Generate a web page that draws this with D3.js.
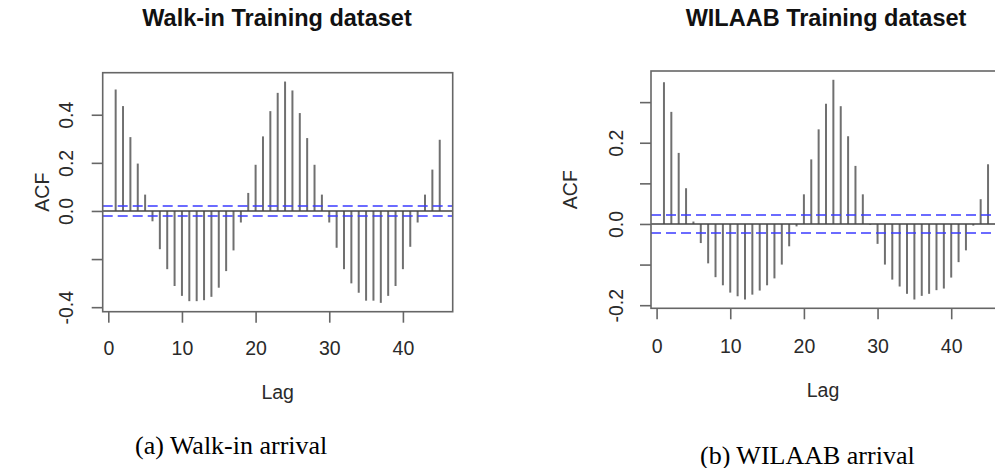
<!DOCTYPE html>
<html>
<head>
<meta charset="utf-8">
<script src="https://cdn.jsdelivr.net/npm/d3@7"></script>
<style>
  html, body { margin: 0; padding: 0; background: #fff; }
  svg { display: block; }
</style>
</head>
<body>
<svg id="chart" width="995" height="468"></svg>
<script>
// ---------------- data ----------------
const lags = [1,2,3,4,5,6,7,8,9,10,11,12,13,14,15,16,17,18,19,20,21,22,23,24,25,26,27,28,29,30,31,32,33,34,35,36,37,38,39,40,41,42,43,44,45];

const acfWalkin = [0.505,0.436,0.307,0.197,0.068,-0.043,-0.159,-0.242,-0.312,-0.353,
  -0.375,-0.375,-0.371,-0.357,-0.319,-0.250,-0.164,-0.048,0.075,0.192,
  0.310,0.415,0.491,0.538,0.501,0.407,0.303,0.192,0.068,-0.048,
  -0.153,-0.242,-0.301,-0.340,-0.373,-0.373,-0.382,-0.353,-0.312,-0.242,
  -0.149,-0.048,0.068,0.172,0.296];

const acfWilaab = [0.349,0.276,0.175,0.088,0.006,-0.047,-0.097,-0.131,-0.151,-0.169,
  -0.178,-0.186,-0.174,-0.164,-0.151,-0.134,-0.100,-0.055,-0.006,0.073,
  0.159,0.233,0.296,0.355,0.290,0.216,0.143,0.073,-0.002,-0.049,
  -0.100,-0.137,-0.154,-0.172,-0.186,-0.177,-0.172,-0.163,-0.159,-0.132,
  -0.094,-0.065,-0.004,0.061,0.147];

const ciWalkin = 0.021;
const ciWilaab = 0.022;

const xTicks = [0,10,20,30,40];
const xTickLabels = ["0","10","20","30","40"];
const yTicksWalkin = [-0.4,-0.2,0.0,0.2,0.4];
const yTickLabelsWalkin = ["-0.4","","0.0","0.2","0.4"];
const yTicksWilaab = [-0.2,-0.1,0.0,0.1,0.2,0.3];
const yTickLabelsWilaab = ["-0.2","","0.0","","0.2",""];

const titles = ["Walk-in Training dataset", "WILAAB Training dataset"];
const captions = ["(a) Walk-in arrival", "(b) WILAAB arrival"];

// ---------------- layout ----------------
const svg = d3.select("#chart");
const sans = "'Liberation Sans', Arial, Helvetica, sans-serif";
const serif = "'Liberation Serif', 'Times New Roman', serif";

const panels = [
  { values: acfWalkin, ci: ciWalkin, yTicks: yTicksWalkin, yLabels: yTickLabelsWalkin,
    title: titles[0], caption: captions[0],
    box: { x0: 102.7, x1: 452.7, y0: 72.7, y1: 311.7 },
    titleX: 277, titleY: 26, ytlX: 73.3, acfX: 49, xtlY: 355, lagY: 399,
    capX: 135, capY: 453.5 },
  { values: acfWilaab, ci: ciWilaab, yTicks: yTicksWilaab, yLabels: yTickLabelsWilaab,
    title: titles[1], caption: captions[1],
    box: { x0: 651, x1: 1001, y0: 71, y1: 308.3 },
    titleX: 826, titleY: 26, ytlX: 623.3, acfX: 576.7, xtlY: 353, lagY: 397,
    capX: 700, capY: 463.5 }
];

const tickLen = 11;

panels.forEach(p => {
  const g = svg.append("g");
  const b = p.box;

  // R-style 4% extended limits
  const xlo = d3.min(lags), xhi = d3.max(lags);
  const xpad = (xhi - xlo) * 0.04;
  const x = d3.scaleLinear().domain([xlo - xpad, xhi + xpad]).range([b.x0, b.x1]);

  const ylo = Math.min(d3.min(p.values), -p.ci), yhi = Math.max(d3.max(p.values), p.ci);
  const ypad = (yhi - ylo) * 0.04;
  const y = d3.scaleLinear().domain([ylo - ypad, yhi + ypad]).range([b.y1, b.y0]);

  // bars
  g.append("g").selectAll("line").data(lags).join("line")
    .attr("x1", (d) => x(d)).attr("x2", (d) => x(d))
    .attr("y1", y(0)).attr("y2", (d, i) => y(p.values[i]))
    .attr("stroke", "#707070").attr("stroke-width", 2);

  // zero line
  g.append("line")
    .attr("x1", b.x0).attr("x2", b.x1).attr("y1", y(0)).attr("y2", y(0))
    .attr("stroke", "#444").attr("stroke-width", 1.4);

  // CI dashed lines
  [p.ci, -p.ci].forEach(c => {
    g.append("line")
      .attr("x1", b.x0).attr("x2", b.x1).attr("y1", y(c)).attr("y2", y(c))
      .attr("stroke", "#3b3bff").attr("stroke-width", 1.5)
      .attr("stroke-dasharray", "10,5");
  });

  // box
  g.append("rect")
    .attr("x", b.x0).attr("y", b.y0).attr("width", b.x1 - b.x0).attr("height", b.y1 - b.y0)
    .attr("fill", "none").attr("stroke", "#666").attr("stroke-width", 1.6);

  // x axis
  const xAxis = d3.axisBottom(x).tickValues(xTicks)
    .tickFormat((d, i) => xTickLabels[i]).tickSize(tickLen).tickSizeOuter(0);
  const gx = g.append("g").attr("transform", `translate(0,${b.y1})`).call(xAxis);
  gx.select(".domain").remove();
  gx.selectAll(".tick line").attr("stroke", "#666").attr("stroke-width", 1.6);
  gx.selectAll(".tick text")
    .attr("y", null).attr("dy", null)
    .attr("transform", null)
    .attr("y", p.xtlY - b.y1)
    .attr("font-family", sans).attr("font-size", 19.5).attr("fill", "#2a2a2a");

  // y axis
  const yAxis = d3.axisLeft(y).tickValues(p.yTicks)
    .tickFormat((d, i) => p.yLabels[i]).tickSize(tickLen).tickSizeOuter(0);
  const gy = g.append("g").attr("transform", `translate(${b.x0},0)`).call(yAxis);
  gy.select(".domain").remove();
  gy.selectAll(".tick line").attr("stroke", "#666").attr("stroke-width", 1.6);
  gy.selectAll(".tick text")
    .attr("x", null).attr("dy", null)
    .attr("text-anchor", "middle")
    .attr("transform", `translate(${p.ytlX - b.x0},0) rotate(-90)`)
    .attr("x", 0).attr("y", 0)
    .attr("font-family", sans).attr("font-size", 19.5).attr("fill", "#2a2a2a");

  // title
  svg.append("text")
    .attr("x", p.titleX).attr("y", p.titleY)
    .attr("text-anchor", "middle")
    .attr("font-family", sans).attr("font-weight", "bold").attr("font-size", 23.5)
    .attr("fill", "#111").text(p.title);

  // Lag label
  svg.append("text")
    .attr("x", (b.x0 + b.x1) / 2 - (p === panels[1] ? 3 : 0)).attr("y", p.lagY)
    .attr("text-anchor", "middle")
    .attr("font-family", sans).attr("font-size", 19.5).attr("fill", "#2a2a2a")
    .text("Lag");

  // ACF label
  svg.append("text")
    .attr("transform", `translate(${p.acfX},${(b.y0 + b.y1) / 2}) rotate(-90)`)
    .attr("text-anchor", "middle")
    .attr("font-family", sans).attr("font-size", 19.5).attr("fill", "#2a2a2a")
    .text("ACF");

  // caption
  svg.append("text")
    .attr("x", p.capX).attr("y", p.capY)
    .attr("font-family", serif).attr("font-size", 26).attr("fill", "#000")
    .text(p.caption);
});
</script>
</body>
</html>
